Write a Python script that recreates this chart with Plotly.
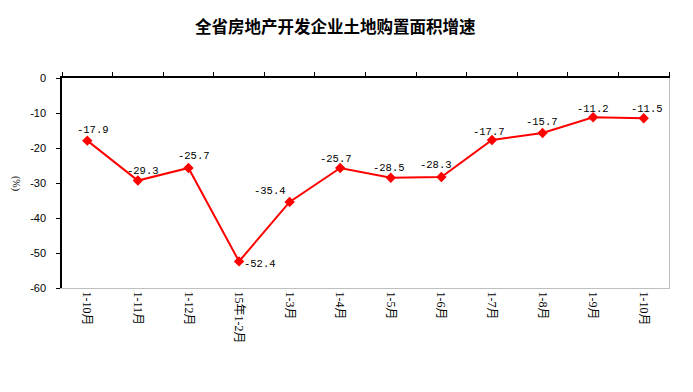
import plotly.graph_objects as go

categories = ["1-10月", "1-11月", "1-12月", "15年1-2月", "1-3月", "1-4月",
              "1-5月", "1-6月", "1-7月", "1-8月", "1-9月", "1-10月"]
# unique internal keys for categories (two "1-10月")
cat_keys = ["c%d" % i for i in range(len(categories))]
values = [-17.9, -29.3, -25.7, -52.4, -35.4, -25.7, -28.5, -28.3, -17.7, -15.7, -11.2, -11.5]
# label offsets (pixels) relative to each point
label_dx = [6, 5, 6, 21, -20, -4, -2, -5, -3, -1, 0, 3]
label_dy = [11, 10, 12, -3, 11, 9, 10, 12, 8, 11, 8, 9]
y_ticks = [0, -10, -20, -30, -40, -50, -60]
y_ticktext = ["0", "-10", "-20", "-30", "-40", "-50", "-60"]
title = "全省房地产开发企业土地购置面积增速"

W, H = 693, 392
ML, MR, MT, MB = 54, 32, 70, 112

fig = go.Figure()
fig.add_trace(go.Scatter(
    x=cat_keys, y=values, mode="lines+markers",
    line=dict(color="#FF0000", width=2),
    marker=dict(symbol="diamond", size=8, color="#FF0000"),
    cliponaxis=False, showlegend=False, hoverinfo="skip",
))
# invisible traces to anchor top and right axes
fig.add_trace(go.Scatter(x=cat_keys, y=values, xaxis="x2", yaxis="y", mode="markers",
                         marker=dict(opacity=0), showlegend=False, hoverinfo="skip"))
fig.add_trace(go.Scatter(x=cat_keys, y=values, xaxis="x", yaxis="y2", mode="markers",
                         marker=dict(opacity=0), showlegend=False, hoverinfo="skip"))

annotations = []
for k, v, dx, dy in zip(cat_keys, values, label_dx, label_dy):
    annotations.append(dict(
        x=k, y=v, xref="x", yref="y", text="%.1f" % v, showarrow=False,
        xshift=dx, yshift=dy, xanchor="center", yanchor="middle",
        font=dict(family="Liberation Mono, DejaVu Sans Mono, monospace", size=10.5, color="#000000"),
    ))
annotations.append(dict(text="<b>" + title + "</b>", xref="paper", yref="paper",
                        x=(327 - ML) / (W - ML - MR), y=1, yshift=52, showarrow=False,
                        xanchor="center", yanchor="middle",
                        font=dict(family="Noto Sans CJK SC", size=16.5, color="#000000")))
annotations.append(dict(text="(%)", xref="paper", yref="paper", x=0, xshift=-46, y=0.5,
                        textangle=90, showarrow=False, xanchor="center", yanchor="middle",
                        font=dict(family="Liberation Serif, serif", size=10, color="#000000")))

fig.update_layout(
    width=W, height=H,
    margin=dict(l=ML, r=MR, t=MT, b=MB),
    paper_bgcolor="white", plot_bgcolor="white",
    font=dict(family="Liberation Serif, Noto Sans CJK SC, serif", size=11, color="#000000"),
    xaxis=dict(
        type="category", categoryorder="array", categoryarray=cat_keys,
        tickvals=cat_keys, ticktext=categories, tickangle=90,
        tickfont=dict(family="Liberation Serif, Noto Sans CJK SC, serif", size=12),
        showline=True, linecolor="#BFBFBF", linewidth=1,
        ticks="", showgrid=False, zeroline=False, automargin=False,
        range=[-0.5, len(cat_keys) - 0.5],
    ),
    xaxis2=dict(
        type="category", categoryorder="array", categoryarray=cat_keys,
        overlaying="x", side="top", matches="x",
        showticklabels=False, ticks="outside", ticklen=4, tickcolor="#000000",
        tickson="boundaries", automargin=False,
        showline=True, linecolor="#000000", linewidth=1.5,
        showgrid=False, zeroline=False,
    ),
    yaxis=dict(
        range=[-60, 0], tickvals=y_ticks, ticktext=y_ticktext,
        ticks="outside", ticklen=4, tickcolor="#000000",
        showline=True, linecolor="#000000", linewidth=1.5,
        showgrid=False, zeroline=False, ticklabelstandoff=8, automargin=False,
        tickfont=dict(family="Liberation Sans, Arial, sans-serif", size=11),
    ),
    yaxis2=dict(
        range=[-60, 0], overlaying="y", side="right", matches="y",
        showticklabels=False, ticks="", showline=True, linecolor="#BFBFBF", linewidth=1,
        showgrid=False, zeroline=False, automargin=False,
    ),
    annotations=annotations,
)

fig.write_html("out.html")
